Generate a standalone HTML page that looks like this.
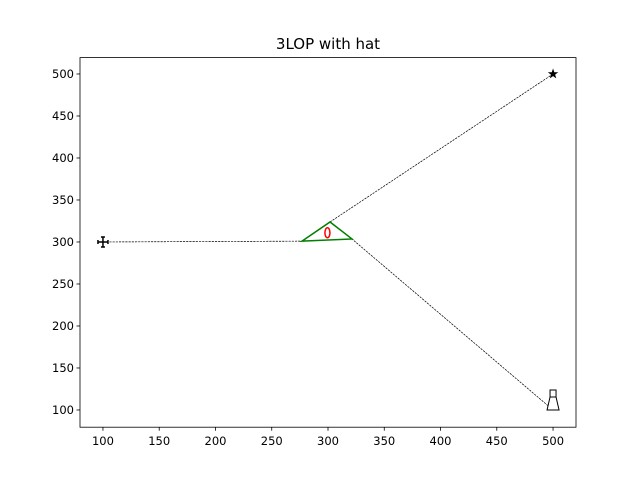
<!DOCTYPE html>
<html><head><meta charset="utf-8"><style>body{margin:0;background:#fff}svg{display:block;font-family:"DejaVu Sans","Liberation Sans",sans-serif}</style></head>
<body>
<svg id="c" width="640" height="480">
<rect width="640" height="480" fill="#fff"/>
<text x="328" y="49" font-size="15" text-anchor="middle">3LOP with hat</text>
<g id="plot"></g>
<rect x="80" y="57.6" width="496" height="369.6" fill="none" stroke="#000" stroke-width="0.8"/>
</svg>
<script>
const xTicks=[100,150,200,250,300,350,400,450,500];
const yTicks=[100,150,200,250,300,350,400,450,500];
const stations=[[100,300],[500,500],[500,100]];
const hatX=[276.9,301.8,321.3];
const hatY=[301,323.8,303.6];
const estimate=[299.5,311];
const X0=80,X1=576,Y0=427.2,Y1=57.6;
const xs=v=>X0+(v-79.6)/(520.4-79.6)*(X1-X0);
const ys=v=>Y0-(v-79.5)/(519.5-79.5)*(Y0-Y1);
const svg=document.getElementById('c');const g=document.getElementById('plot');
const NS='http://www.w3.org/2000/svg';
function mk(t,a){const e=document.createElementNS(NS,t);for(const k in a)e.setAttribute(k,a[k]);g.appendChild(e);return e;}
xTicks.forEach(v=>{const x=xs(v);
const l=mk('line',{x1:x,x2:x,y1:Y0,y2:Y0+3.5,stroke:'#000','stroke-width':0.8});


const t=mk('text',{x:x,y:Y0+18,'font-size':11.5,'text-anchor':'middle'});t.textContent=v;

});
yTicks.forEach(v=>{const y=ys(v);
const l=mk('line',{x1:X0-3.5,x2:X0,y1:y,y2:y,stroke:'#000','stroke-width':0.8});


const t=mk('text',{x:X0-6,y:y+4,'font-size':11.5,'text-anchor':'end'});t.textContent=v;

});
stations.forEach((s,i)=>{const l=mk('line',{x1:xs(s[0]),y1:ys(s[1]),x2:xs(hatX[i]),y2:ys(hatY[i]),stroke:'#000','stroke-width':0.7,'stroke-dasharray':'2.2,1'});

});
const tri=mk('polygon',{points:hatX.map((x,i)=>xs(x)+','+ys(hatY[i])).join(' '),fill:'none',stroke:'green','stroke-width':1.5});


const el=mk('ellipse',{cx:xs(estimate[0]),cy:ys(estimate[1]),rx:2.5,ry:5,fill:'none',stroke:'red','stroke-width':1.5});


let x=xs(stations[0][0]),y=ys(stations[0][1]);
const m1=mk('path',{d:`M${x-5},${y}H${x+5}M${x},${y-5}V${y+5}M${x-5},${y-2}V${y+2}M${x+5},${y-2}V${y+2}M${x-2},${y-5}H${x+2}M${x-2},${y+5}H${x+2}`,stroke:'#000','stroke-width':1.5,fill:'none'});


x=xs(stations[1][0]);y=ys(stations[1][1]);
let pts=[];for(let i=0;i<10;i++){const r=i%2?2.2:5.5,a=-Math.PI/2+i*Math.PI/5;pts.push((x+r*Math.cos(a))+','+(y+r*Math.sin(a)));}
const m2=mk('polygon',{points:pts.join(' '),fill:'#000'});


x=xs(stations[2][0]);y=ys(stations[2][1]);
const m3=mk('path',{d:`M${x-3},${y-20}H${x+3}V${y-13}H${x-3}Z M${x-3},${y-13}L${x-6},${y}H${x+6}L${x+3},${y-13}`,stroke:'#000','stroke-width':1,fill:'#fff'});


</script>
</body></html>
